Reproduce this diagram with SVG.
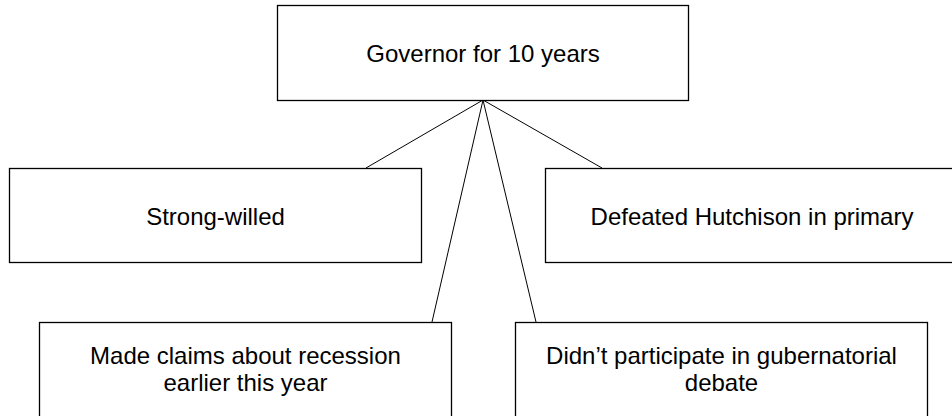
<svg xmlns="http://www.w3.org/2000/svg" width="952" height="416" viewBox="0 0 952 416">
<style>
.box{fill:#fff;stroke:#000;stroke-width:1.3}
.lbl{font-family:"Liberation Sans",Arial,sans-serif;font-size:24px;fill:#000;text-anchor:middle}
.conn{stroke:#000;stroke-width:1;fill:none}
</style>
<rect width="952" height="416" fill="#fff"/>
<g id="connectors">
<line class="conn" x1="483" y1="100" x2="366" y2="168"/>
<line class="conn" x1="483" y1="100" x2="602" y2="168"/>
<line class="conn" x1="483" y1="100" x2="432" y2="322"/>
<line class="conn" x1="483" y1="100" x2="536" y2="322"/>
</g>
<g id="governor">
<rect class="box" x="277.5" y="5.5" width="411" height="95"/>
<text class="lbl" x="483" y="62">Governor for 10 years</text>
</g>
<g id="strong-willed">
<rect class="box" x="9.5" y="168.5" width="412" height="94"/>
<text class="lbl" x="215.5" y="225">Strong-willed</text>
</g>
<g id="defeated">
<rect class="box" x="545.5" y="168.5" width="413" height="94"/>
<text class="lbl" x="752" y="225">Defeated Hutchison in primary</text>
</g>
<g id="claims">
<rect class="box" x="39.5" y="322.5" width="412" height="95"/>
<text class="lbl" x="245.5" y="364">Made claims about recession</text>
<text class="lbl" x="245.5" y="391">earlier this year</text>
</g>
<g id="debate">
<rect class="box" x="515.5" y="322.5" width="412" height="95"/>
<text class="lbl" x="721.5" y="364">Didn’t participate in gubernatorial</text>
<text class="lbl" x="721.5" y="391">debate</text>
</g>
</svg>
